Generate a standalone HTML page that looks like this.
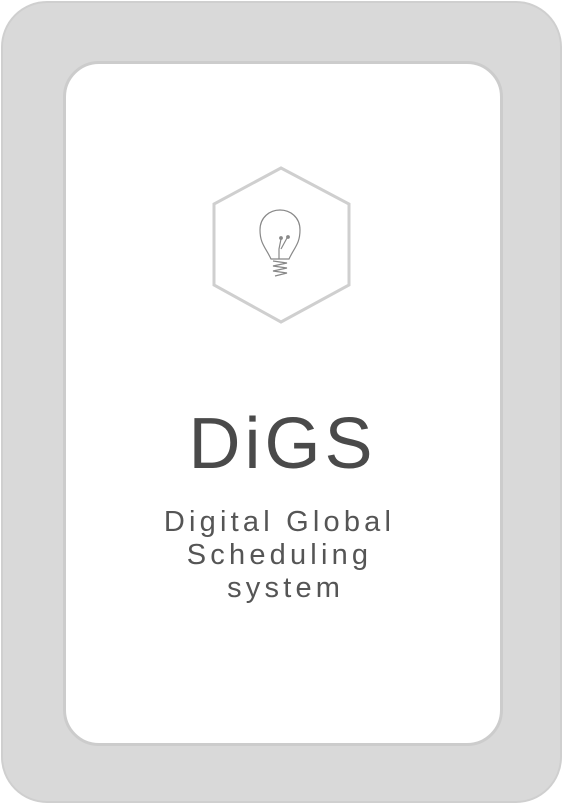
<!DOCTYPE html>
<html><head><style>
body{margin:0;width:563px;height:804px;overflow:hidden;background:#fff;font-family:"Liberation Sans",sans-serif}
.o{position:absolute;left:1px;top:1px;width:557px;height:798px;background:#d9d9d9;border:2px solid #cfcfcf;border-radius:46px}
.i{position:absolute;left:63px;top:61px;width:434px;height:679px;background:#fff;border:3px solid #cccccc;border-radius:36px}
.t{position:absolute;left:0;width:563px;text-align:center;color:#4a4a4a}
</style></head><body>
<div class="o"></div><div class="i"></div>
<svg style="position:absolute;left:0;top:0" width="563" height="804">
<polygon points="281,168 349,204 349,285 281,322 214,285 214,204" fill="none" stroke="#cfcfcf" stroke-width="3"/>
<g fill="none" stroke="#888" stroke-width="1.2">
<path d="M271,259 C266,248 260,244 260,230 C260,217 270,210 280,210 C290,210 300,217 300,230 C300,244 294,248 289,259 Z"/>
<path d="M279,259 L279,249 L281,239 M281,249 L287,238"/>
<circle cx="281" cy="238" r="1.3" fill="#888"/><circle cx="288" cy="237" r="1.3" fill="#888"/>
<path d="M273,261 L287,263 L273,266 L287,268 L273,271 L287,273 L275,276"/>
</g>
</svg>
<div class="t" style="top:402px;left:1px;font-size:72px;letter-spacing:4px;line-height:84px">DiGS</div>
<div class="t" style="top:506px;font-size:29px;letter-spacing:4.2px;line-height:33px;color:#555;left:-2px">Digital Global<br>Scheduling<br>&nbsp;system</div>
</body></html>
